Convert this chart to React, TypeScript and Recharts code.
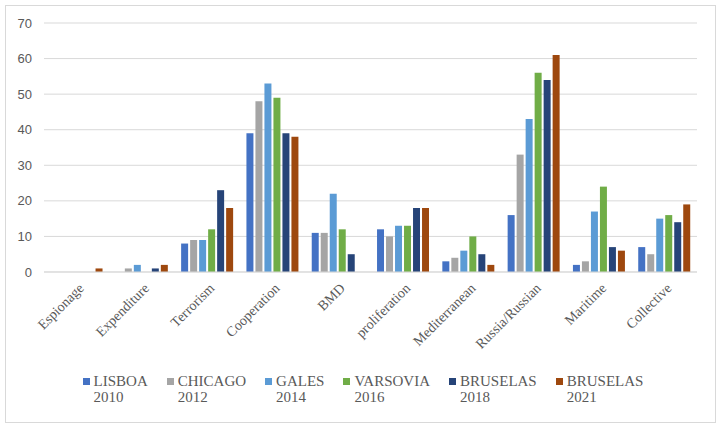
import { BarChart, Bar, XAxis, YAxis, CartesianGrid, Legend } from "recharts";

const CATEGORIES = [
  "Espionage", "Expenditure", "Terrorism", "Cooperation", "BMD",
  "proliferation", "Mediterranean", "Russia/Russian", "Maritime", "Collective",
];

const LISBOA_2010 = [0, 0, 8, 39, 11, 12, 3, 16, 2, 7];
const CHICAGO_2012 = [0, 1, 9, 48, 11, 10, 4, 33, 3, 5];
const GALES_2014 = [0, 2, 9, 53, 22, 13, 6, 43, 17, 15];
const VARSOVIA_2016 = [0, 0, 12, 49, 12, 13, 10, 56, 24, 16];
const BRUSELAS_2018 = [0, 1, 23, 39, 5, 18, 5, 54, 7, 14];
const BRUSELAS_2021 = [1, 2, 18, 38, 0, 18, 2, 61, 6, 19];

const Y_TICKS = [0, 10, 20, 30, 40, 50, 60, 70];

const SERIES = [
  { key: "s2010", label: ["LISBOA", "2010"], values: LISBOA_2010, color: "#4472C4" },
  { key: "s2012", label: ["CHICAGO", "2012"], values: CHICAGO_2012, color: "#A5A5A5" },
  { key: "s2014", label: ["GALES", "2014"], values: GALES_2014, color: "#5B9BD5" },
  { key: "s2016", label: ["VARSOVIA", "2016"], values: VARSOVIA_2016, color: "#70AD47" },
  { key: "s2018", label: ["BRUSELAS", "2018"], values: BRUSELAS_2018, color: "#264478" },
  { key: "s2021", label: ["BRUSELAS", "2021"], values: BRUSELAS_2021, color: "#9E480E" },
];

const data = CATEGORIES.map((name, i) => {
  const row: Record<string, string | number> = { name };
  SERIES.forEach((s) => { row[s.key] = s.values[i]; });
  return row;
});

const TEXT = "#595959";
const GRID = "#d9d9d9";
const SERIF = "'Liberation Serif', 'Times New Roman', Tinos, serif";

// ── rotated category label ───────────────────────────────
function CategoryTick({ x, y, payload }: any) {
  return (
    <g transform={`translate(${x + 8},${y + 9})`}>
      <text
        transform="rotate(-45)"
        textAnchor="end"
        fill={TEXT}
        fontSize={14}
        fontFamily={SERIF}
        style={{ fontFamily: SERIF }}
      >
        {payload.value}
      </text>
    </g>
  );
}

// ── two-line legend like the Excel original ──────────────
function TwoLineLegend() {
  return (
    <div
      style={{
        display: "flex",
        justifyContent: "center",
        gap: 19,
        fontFamily: SERIF,
        fontSize: 15,
        lineHeight: "16px",
        color: TEXT,
      }}
    >
      {SERIES.map((s) => (
        <div key={s.key} style={{ display: "flex", alignItems: "flex-start" }}>
          <span
            style={{
              width: 7,
              height: 7,
              background: s.color,
              marginTop: 5,
              marginRight: 4,
              flex: "none",
            }}
          />
          <span>
            {s.label[0]}
            <br />
            {s.label[1]}
          </span>
        </div>
      ))}
    </div>
  );
}

export default function App() {
  return (
    <div style={{ position: "absolute", left: 0, top: 0, width: 726, height: 429, background: "#fff" }}>
      <div
        style={{
          position: "absolute",
          left: 5,
          top: 5,
          width: 711,
          height: 418,
          boxSizing: "border-box",
          border: `1px solid ${GRID}`,
        }}
      />
      <div style={{ position: "absolute", left: 0, top: 0 }}>
        <BarChart
          width={726}
          height={429}
          data={data}
          margin={{ top: 23, right: 29, left: 0, bottom: 5 }}
          barCategoryGap="10%"
          barGap={2}
        >
          <CartesianGrid vertical={false} stroke={GRID} strokeWidth={1} />
          <XAxis
            dataKey="name"
            interval={0}
            height={100}
            axisLine={{ stroke: GRID }}
            tickLine={false}
            tick={<CategoryTick />}
          />
          <YAxis
            width={44}
            domain={[0, 70]}
            ticks={Y_TICKS}
            axisLine={false}
            tickLine={false}
            tickMargin={6}
            tick={{ fill: TEXT, fontSize: 13, fontFamily: "'Liberation Sans', sans-serif" }}
          />
          <Legend
            verticalAlign="bottom"
            height={52}
            content={<TwoLineLegend />}
            wrapperStyle={{ left: 0, width: 726, top: 373 }}
          />
          {SERIES.map((s) => (
            <Bar key={s.key} dataKey={s.key} fill={s.color} isAnimationActive={false} />
          ))}
        </BarChart>
      </div>
    </div>
  );
}
